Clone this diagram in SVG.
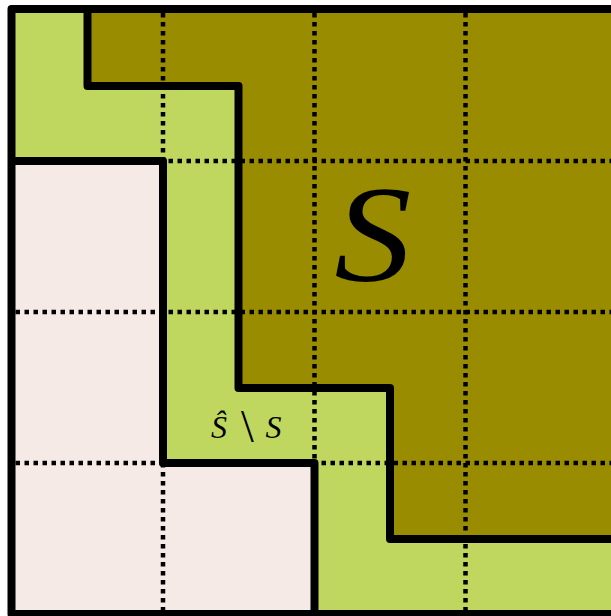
<svg xmlns="http://www.w3.org/2000/svg" width="611" height="616" viewBox="0 0 611 616">
<style>
.edge{fill:none;stroke:#000;stroke-width:8;stroke-linejoin:round;stroke-linecap:butt}
.grid{fill:none;stroke:#000;stroke-width:4.5;stroke-dasharray:4.5 4.5}
.math{font-family:"Liberation Serif","DejaVu Serif",serif;font-style:italic;fill:#000}
</style>
<rect width="611" height="616" fill="#ffffff"/>
<g id="hull">
<rect x="11.5" y="9" width="610" height="605" fill="#BFD75F"/>
</g>
<g id="setS">
<path d="M87.5,9 V86 H238.5 V388 H390 V539 H616 V9 Z" fill="#9A8C00"/>
</g>
<g id="outside">
<path d="M11.5,161 H163 V463 H314.5 V614 H11.5 Z" fill="#F5EAE6"/>
</g>
<g id="grid">
<line class="grid" x1="163" y1="13" x2="163" y2="610"/>
<line class="grid" x1="314.5" y1="13" x2="314.5" y2="610"/>
<line class="grid" x1="465.5" y1="13" x2="465.5" y2="610"/>
<line class="grid" x1="15.5" y1="161" x2="611" y2="161"/>
<line class="grid" x1="15.5" y1="312" x2="611" y2="312"/>
<line class="grid" x1="15.5" y1="463" x2="611" y2="463"/>
</g>
<g id="boundaries">
<polyline class="edge" points="87.5,9 87.5,86 238.5,86 238.5,388 390,388 390,539 620,539"/>
<polyline class="edge" points="11.5,161 163,161 163,463 314.5,463 314.5,614"/>
<path class="edge" d="M620,614 H11.5 V9 H620"/>
</g>
<g id="labels">
<text class="math" font-size="138" text-anchor="middle" transform="translate(373,281) scale(1.12,1)">S</text>
<text class="math" x="219" y="437.5" font-size="32" text-anchor="middle">Ŝ</text>
<text x="247.5" y="442" font-size="46" text-anchor="middle" font-family="'Liberation Serif','DejaVu Serif',serif">\</text>
<text class="math" x="273.5" y="437.5" font-size="32" text-anchor="middle">S</text>
</g>
</svg>
